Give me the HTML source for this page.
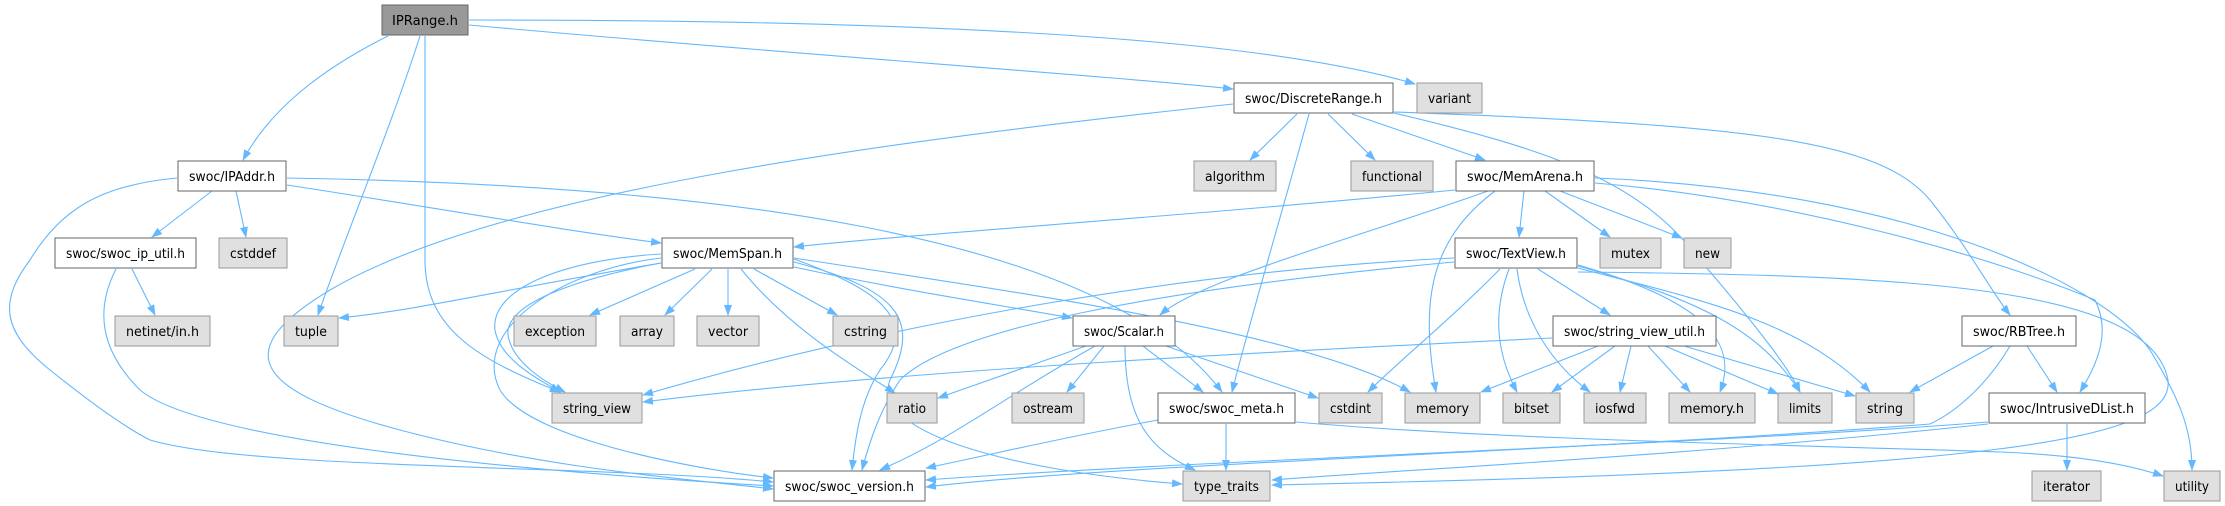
<!DOCTYPE html>
<html><head><meta charset="utf-8"><style>
html,body{margin:0;padding:0;background:#fff;width:2225px;height:506px;overflow:hidden}
svg text{font-family:"DejaVu Sans","Liberation Sans",sans-serif;font-size:13px;fill:#000}
</style></head><body>
<svg width="2225" height="506" viewBox="0 0 2225 506" xmlns="http://www.w3.org/2000/svg">
<defs><marker id="a" markerWidth="11" markerHeight="8" refX="10" refY="4" orient="auto" markerUnits="userSpaceOnUse"><path d="M0,0 L11,4 L0,8 z" fill="#63b8ff"/></marker></defs>
<g fill="none" stroke="#63b8ff" stroke-width="1.1" marker-end="url(#a)">
<path d="M388 36 C320 70,270 110,243 160"/>
<path d="M420 36 C390 130,340 250,318 315"/>
<path d="M425 36 L425 260 C425 330,480 360,560 392"/>
<path d="M469 25 C800 55,1100 75,1233 89"/>
<path d="M469 20 C900 20,1250 35,1415 84"/>
<path d="M212 191 L152 237"/>
<path d="M236 191 L246 237"/>
<path d="M287 185 C450 210,560 230,661 243"/>
<path d="M287 178 C700 185,1100 230,1222 392"/>
<path d="M177 178 C100 185,60 210,30 260 C0 300,0 330,50 370 C100 410,130 430,150 440 C250 470,600 465,773 482"/>
<path d="M132 269 L155 315"/>
<path d="M116 269 C95 310,100 350,140 390 C200 440,500 470,773 486"/>
<path d="M1297 114 L1250 160"/>
<path d="M1328 114 L1375 160"/>
<path d="M1352 114 L1485 160"/>
<path d="M1309 114 C1280 220,1250 320,1232 392"/>
<path d="M1394 113 C1550 150,1640 180,1700 260 C1760 330,1790 370,1800 392"/>
<path d="M1394 112 C1750 125,1880 140,1930 200 C1970 250,1990 290,2010 315"/>
<path d="M1233 104 C900 140,500 190,330 290 C230 350,250 390,400 430 C550 470,700 480,773 489"/>
<path d="M1455 190 C1200 215,900 235,794 247"/>
<path d="M1488 191 C1350 240,1200 280,1160 315"/>
<path d="M1495 191 C1430 240,1420 300,1436 392"/>
<path d="M1524 191 L1519 237"/>
<path d="M1545 191 L1610 237"/>
<path d="M1560 191 L1682 238"/>
<path d="M1595 183 C1800 200,2000 260,2095 300 C2110 330,2100 360,2080 392"/>
<path d="M1595 178 C1900 190,2100 280,2150 350 C2180 400,2192 430,2192 470"/>
<path d="M661 263 C500 290,420 310,339 318"/>
<path d="M661 254 C560 260,490 290,495 330 C500 360,540 380,560 392"/>
<path d="M661 263 C570 280,505 305,508 335 C512 362,545 382,565 392"/>
<path d="M695 269 L590 315"/>
<path d="M712 269 L665 315"/>
<path d="M728 269 L728 315"/>
<path d="M754 269 L837 315"/>
<path d="M741 269 C790 330,860 370,895 393"/>
<path d="M661 258 C560 270,470 330,500 390 C530 440,700 470,773 478"/>
<path d="M794 259 C880 290,920 320,880 370 C860 400,855 440,852 470"/>
<path d="M794 262 C900 290,920 320,890 380 C870 430,1000 470,1182 484"/>
<path d="M794 267 C900 290,1000 305,1072 318"/>
<path d="M794 258 C1000 290,1300 330,1410 392"/>
<path d="M1454 258 C1200 270,900 320,643 395"/>
<path d="M1454 262 C1150 290,950 330,900 380 C880 410,870 440,862 470"/>
<path d="M1500 269 C1450 320,1400 360,1368 392"/>
<path d="M1509 269 C1490 320,1500 360,1517 392"/>
<path d="M1517 269 C1525 330,1560 370,1590 392"/>
<path d="M1538 269 L1610 315"/>
<path d="M1578 265 C1700 300,1740 340,1720 392"/>
<path d="M1578 266 C1700 300,1760 330,1800 392"/>
<path d="M1578 268 C1700 300,1800 320,1870 392"/>
<path d="M1578 272 C1900 275,2150 285,2168 380 C2175 440,2000 470,1272 485"/>
<path d="M1086 346 L938 398"/>
<path d="M1104 346 L1067 392"/>
<path d="M1095 346 C1000 400,950 440,880 470"/>
<path d="M1143 346 L1203 392"/>
<path d="M1166 346 L1318 398"/>
<path d="M1125 346 C1125 420,1150 450,1195 470"/>
<path d="M1552 338 C1300 350,900 370,643 402"/>
<path d="M1598 346 L1481 392"/>
<path d="M1615 346 L1552 392"/>
<path d="M1631 346 L1620 392"/>
<path d="M1648 346 L1690 392"/>
<path d="M1665 346 L1778 394"/>
<path d="M1684 346 L1855 396"/>
<path d="M1993 346 L1910 392"/>
<path d="M2027 346 L2057 392"/>
<path d="M2010 346 C1990 380,1960 410,1930 424 C1600 450,1100 465,926 487"/>
<path d="M1988 422 C1700 445,1200 460,926 480"/>
<path d="M1988 424 C1700 455,1400 470,1272 480"/>
<path d="M2067 424 L2067 470"/>
<path d="M1158 420 C1050 440,990 455,926 468"/>
<path d="M1226 424 L1226 470"/>
<path d="M1296 422 C1500 440,1800 445,2000 452 C2080 455,2130 465,2163 476"/>
</g>
<g stroke-width="1">
<rect x="382" y="5" width="86" height="30" fill="#999" stroke="#666"/><text x="425" y="25" text-anchor="middle" textLength="66" lengthAdjust="spacingAndGlyphs">IPRange.h</text>

<rect x="1234" y="83" width="159" height="30" fill="#fff" stroke="#666"/><text x="1313.5" y="103" text-anchor="middle" textLength="137" lengthAdjust="spacingAndGlyphs">swoc/DiscreteRange.h</text>
<rect x="1417" y="83" width="65" height="30" fill="#e0e0e0" stroke="#999"/><text x="1449.5" y="103" text-anchor="middle" textLength="43" lengthAdjust="spacingAndGlyphs">variant</text>

<rect x="178" y="161" width="108" height="30" fill="#fff" stroke="#666"/><text x="232" y="181" text-anchor="middle" textLength="86" lengthAdjust="spacingAndGlyphs">swoc/IPAddr.h</text>
<rect x="1194" y="161" width="82" height="30" fill="#e0e0e0" stroke="#999"/><text x="1235" y="181" text-anchor="middle" textLength="60" lengthAdjust="spacingAndGlyphs">algorithm</text>
<rect x="1351" y="161" width="82" height="30" fill="#e0e0e0" stroke="#999"/><text x="1392" y="181" text-anchor="middle" textLength="60" lengthAdjust="spacingAndGlyphs">functional</text>
<rect x="1456" y="161" width="138" height="30" fill="#fff" stroke="#666"/><text x="1525" y="181" text-anchor="middle" textLength="116" lengthAdjust="spacingAndGlyphs">swoc/MemArena.h</text>

<rect x="55" y="238" width="141" height="30" fill="#fff" stroke="#666"/><text x="125.5" y="258" text-anchor="middle" textLength="119" lengthAdjust="spacingAndGlyphs">swoc/swoc_ip_util.h</text>
<rect x="219" y="238" width="68" height="30" fill="#e0e0e0" stroke="#999"/><text x="253" y="258" text-anchor="middle" textLength="46" lengthAdjust="spacingAndGlyphs">cstddef</text>
<rect x="662" y="238" width="131" height="30" fill="#fff" stroke="#666"/><text x="727.5" y="258" text-anchor="middle" textLength="109" lengthAdjust="spacingAndGlyphs">swoc/MemSpan.h</text>
<rect x="1455" y="238" width="122" height="30" fill="#fff" stroke="#666"/><text x="1516" y="258" text-anchor="middle" textLength="100" lengthAdjust="spacingAndGlyphs">swoc/TextView.h</text>
<rect x="1600" y="238" width="61" height="30" fill="#e0e0e0" stroke="#999"/><text x="1630.5" y="258" text-anchor="middle" textLength="39" lengthAdjust="spacingAndGlyphs">mutex</text>
<rect x="1684" y="238" width="47" height="30" fill="#e0e0e0" stroke="#999"/><text x="1707.5" y="258" text-anchor="middle" textLength="25" lengthAdjust="spacingAndGlyphs">new</text>

<rect x="115" y="316" width="95" height="30" fill="#e0e0e0" stroke="#999"/><text x="162.5" y="336" text-anchor="middle" textLength="73" lengthAdjust="spacingAndGlyphs">netinet/in.h</text>
<rect x="284" y="316" width="54" height="30" fill="#e0e0e0" stroke="#999"/><text x="311" y="336" text-anchor="middle" textLength="32" lengthAdjust="spacingAndGlyphs">tuple</text>
<rect x="514" y="316" width="82" height="30" fill="#e0e0e0" stroke="#999"/><text x="555" y="336" text-anchor="middle" textLength="60" lengthAdjust="spacingAndGlyphs">exception</text>
<rect x="620" y="316" width="54" height="30" fill="#e0e0e0" stroke="#999"/><text x="647" y="336" text-anchor="middle" textLength="32" lengthAdjust="spacingAndGlyphs">array</text>
<rect x="697" y="316" width="62" height="30" fill="#e0e0e0" stroke="#999"/><text x="728" y="336" text-anchor="middle" textLength="40" lengthAdjust="spacingAndGlyphs">vector</text>
<rect x="833" y="316" width="65" height="30" fill="#e0e0e0" stroke="#999"/><text x="865.5" y="336" text-anchor="middle" textLength="43" lengthAdjust="spacingAndGlyphs">cstring</text>
<rect x="1073" y="316" width="102" height="30" fill="#fff" stroke="#666"/><text x="1124" y="336" text-anchor="middle" textLength="80" lengthAdjust="spacingAndGlyphs">swoc/Scalar.h</text>
<rect x="1553" y="316" width="163" height="30" fill="#fff" stroke="#666"/><text x="1634.5" y="336" text-anchor="middle" textLength="141" lengthAdjust="spacingAndGlyphs">swoc/string_view_util.h</text>
<rect x="1962" y="316" width="114" height="30" fill="#fff" stroke="#666"/><text x="2019" y="336" text-anchor="middle" textLength="92" lengthAdjust="spacingAndGlyphs">swoc/RBTree.h</text>

<rect x="552" y="393" width="90" height="30" fill="#e0e0e0" stroke="#999"/><text x="597" y="413" text-anchor="middle" textLength="68" lengthAdjust="spacingAndGlyphs">string_view</text>
<rect x="887" y="393" width="50" height="30" fill="#e0e0e0" stroke="#999"/><text x="912" y="413" text-anchor="middle" textLength="28" lengthAdjust="spacingAndGlyphs">ratio</text>
<rect x="1012" y="393" width="72" height="30" fill="#e0e0e0" stroke="#999"/><text x="1048" y="413" text-anchor="middle" textLength="50" lengthAdjust="spacingAndGlyphs">ostream</text>
<rect x="1158" y="393" width="137" height="30" fill="#fff" stroke="#666"/><text x="1226.5" y="413" text-anchor="middle" textLength="115" lengthAdjust="spacingAndGlyphs">swoc/swoc_meta.h</text>
<rect x="1319" y="393" width="63" height="30" fill="#e0e0e0" stroke="#999"/><text x="1350.5" y="413" text-anchor="middle" textLength="41" lengthAdjust="spacingAndGlyphs">cstdint</text>
<rect x="1405" y="393" width="75" height="30" fill="#e0e0e0" stroke="#999"/><text x="1442.5" y="413" text-anchor="middle" textLength="53" lengthAdjust="spacingAndGlyphs">memory</text>
<rect x="1503" y="393" width="57" height="30" fill="#e0e0e0" stroke="#999"/><text x="1531.5" y="413" text-anchor="middle" textLength="35" lengthAdjust="spacingAndGlyphs">bitset</text>
<rect x="1584" y="393" width="62" height="30" fill="#e0e0e0" stroke="#999"/><text x="1615" y="413" text-anchor="middle" textLength="40" lengthAdjust="spacingAndGlyphs">iosfwd</text>
<rect x="1669" y="393" width="86" height="30" fill="#e0e0e0" stroke="#999"/><text x="1712" y="413" text-anchor="middle" textLength="64" lengthAdjust="spacingAndGlyphs">memory.h</text>
<rect x="1778" y="393" width="54" height="30" fill="#e0e0e0" stroke="#999"/><text x="1805" y="413" text-anchor="middle" textLength="32" lengthAdjust="spacingAndGlyphs">limits</text>
<rect x="1856" y="393" width="58" height="30" fill="#e0e0e0" stroke="#999"/><text x="1885" y="413" text-anchor="middle" textLength="36" lengthAdjust="spacingAndGlyphs">string</text>
<rect x="1989" y="393" width="156" height="30" fill="#fff" stroke="#666"/><text x="2067" y="413" text-anchor="middle" textLength="134" lengthAdjust="spacingAndGlyphs">swoc/IntrusiveDList.h</text>

<rect x="774" y="471" width="151" height="30" fill="#fff" stroke="#666"/><text x="849.5" y="491" text-anchor="middle" textLength="129" lengthAdjust="spacingAndGlyphs">swoc/swoc_version.h</text>
<rect x="1183" y="471" width="87" height="30" fill="#e0e0e0" stroke="#999"/><text x="1226.5" y="491" text-anchor="middle" textLength="65" lengthAdjust="spacingAndGlyphs">type_traits</text>
<rect x="2032" y="471" width="69" height="30" fill="#e0e0e0" stroke="#999"/><text x="2066.5" y="491" text-anchor="middle" textLength="47" lengthAdjust="spacingAndGlyphs">iterator</text>
<rect x="2164" y="471" width="56" height="30" fill="#e0e0e0" stroke="#999"/><text x="2192" y="491" text-anchor="middle" textLength="34" lengthAdjust="spacingAndGlyphs">utility</text>
</g>
</svg>
</body></html>
